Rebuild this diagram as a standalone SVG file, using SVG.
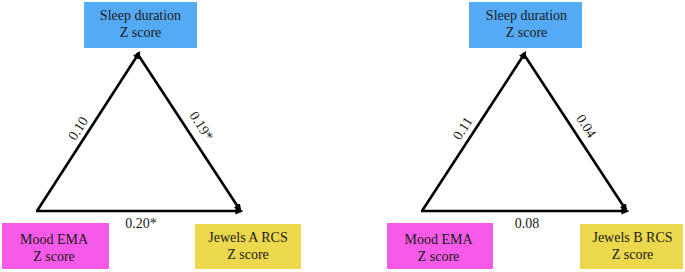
<svg xmlns="http://www.w3.org/2000/svg" width="685" height="272" viewBox="0 0 685 272">
<style>
text{font-family:"Liberation Serif","Times New Roman",serif;font-size:14px;fill:#1a1a1a}
.lbl{text-anchor:middle}
.edge{stroke:#000;stroke-width:2.6;fill:none;marker-end:url(#ah)}
.blue{fill:#55aaf5}
.mag{fill:#f75ae8}
.yel{fill:#ecd84c}
</style>
<defs>
<marker id="ah" viewBox="0 0 10 10" refX="7" refY="5" markerWidth="8" markerHeight="8" markerUnits="userSpaceOnUse" orient="auto">
<path d="M0,0.5 L10,5 L0,9.5 z" fill="#000"/>
</marker>
</defs>
<rect width="685" height="272" fill="#fff"/>
<g id="connectors">
<line class="edge" x1="37" y1="211" x2="139" y2="53"/>
<line class="edge" x1="137" y1="53" x2="240" y2="210"/>
<line class="edge" x1="36" y1="211" x2="241" y2="211"/>
<line class="edge" x1="422" y1="211" x2="525" y2="53"/>
<line class="edge" x1="523" y1="53" x2="626" y2="210"/>
<line class="edge" x1="421" y1="211" x2="627" y2="211"/>
<text class="lbl" transform="translate(82,131) rotate(-57)">0.10</text>
<text class="lbl" transform="translate(197.5,128.5) rotate(57)">0.19*</text>
<text class="lbl" x="141" y="228">0.20*</text>
<text class="lbl" transform="translate(466.5,131) rotate(-57)">0.11</text>
<text class="lbl" transform="translate(582.5,128.5) rotate(57)">0.04</text>
<text class="lbl" x="527" y="228">0.08</text>
</g>
<g id="sleepA">
<rect class="blue" x="84" y="2" width="113" height="46"/>
<text class="lbl" x="140.5" y="20">Sleep duration</text>
<text class="lbl" x="140.5" y="37">Z score</text>
</g>
<g id="moodA">
<rect class="mag" x="2" y="223" width="107" height="46"/>
<text class="lbl" x="54" y="244">Mood EMA</text>
<text class="lbl" x="54" y="261">Z score</text>
</g>
<g id="jewelsA">
<rect class="yel" x="195" y="224" width="106" height="45"/>
<text class="lbl" x="248" y="242">Jewels A RCS</text>
<text class="lbl" x="248" y="259">Z score</text>
</g>
<g id="sleepB">
<rect class="blue" x="469" y="2" width="113" height="46"/>
<text class="lbl" x="526.5" y="20">Sleep duration</text>
<text class="lbl" x="526.5" y="37">Z score</text>
</g>
<g id="moodB">
<rect class="mag" x="387" y="223" width="106" height="46"/>
<text class="lbl" x="438.5" y="244">Mood EMA</text>
<text class="lbl" x="438.5" y="261">Z score</text>
</g>
<g id="jewelsB">
<rect class="yel" x="580" y="224" width="103" height="45"/>
<text class="lbl" x="632.5" y="242">Jewels B RCS</text>
<text class="lbl" x="632.5" y="259">Z score</text>
</g>
</svg>
